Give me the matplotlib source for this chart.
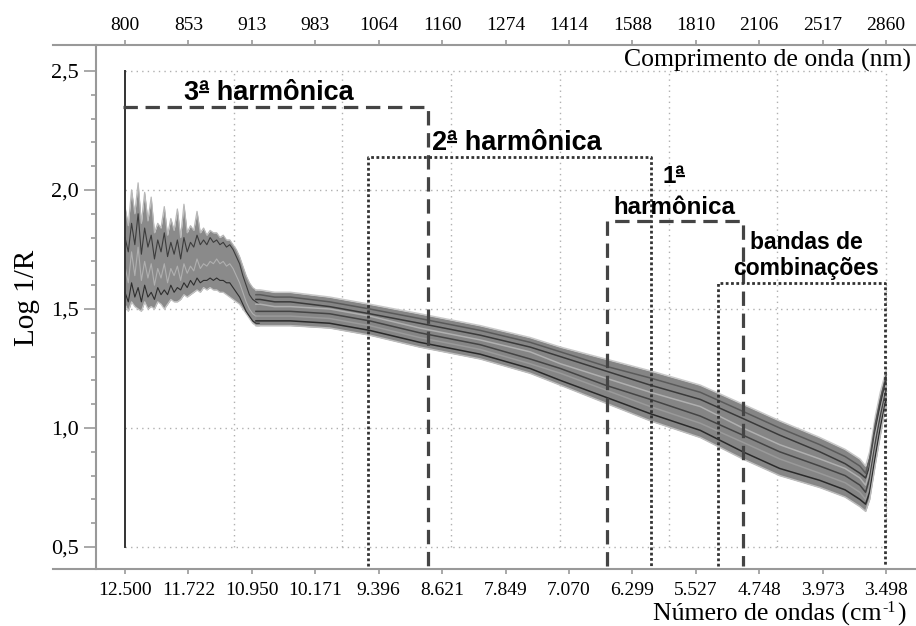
import matplotlib
matplotlib.use("Agg")
import matplotlib.pyplot as plt
from matplotlib.lines import Line2D
from matplotlib.ticker import FixedLocator

# axis ticks (wavenumber positions on a linear axis) and their printed labels
tick_wn = [12500, 11725, 10950, 10175, 9400, 8625, 7850, 7075, 6300, 5525, 4750, 3975, 3200]
bottom_labels = ['12.500', '11.722', '10.950', '10.171', '9.396', '8.621', '7.849',
                 '7.070', '6.299', '5.527', '4.748', '3.973', '3.498']
top_labels = ['800', '853', '913', '983', '1064', '1160', '1274', '1414', '1588',
              '1810', '2106', '2517', '2860']
grid_wn = [12500, 11171, 9843, 8514, 7186, 5857, 4529, 3200]
grid_y = [0.5, 1.0, 1.5, 2.0, 2.5]

# noisy short-wavelength part
wn_noisy = [12500, 12460, 12420, 12380, 12340, 12300, 12260, 12220, 12180, 12140,
            12100, 12060, 12020, 11980, 11940, 11900, 11860, 11820, 11780, 11740,
            11700, 11660, 11620, 11580, 11540, 11500, 11460, 11420, 11380, 11340,
            11300, 11260, 11220, 11180, 11140, 11100, 11060, 11020, 10980, 10940,
            10900, 10860]
noisy_top = [1.93, 1.85, 2.00, 1.90, 2.03, 1.86, 1.99, 1.87, 1.97, 1.82,
             1.86, 1.84, 1.93, 1.81, 1.88, 1.83, 1.92, 1.80, 1.94, 1.82,
             1.85, 1.83, 1.91, 1.82, 1.84, 1.81, 1.83, 1.82, 1.82, 1.80,
             1.81, 1.79, 1.79, 1.77, 1.75, 1.72, 1.68, 1.64, 1.61, 1.59,
             1.58, 1.57]
noisy_bot = [1.52, 1.49, 1.53, 1.51, 1.50, 1.49, 1.53, 1.50, 1.51, 1.50,
             1.53, 1.52, 1.50, 1.52, 1.54, 1.53, 1.53, 1.54, 1.56, 1.55,
             1.56, 1.57, 1.58, 1.57, 1.59, 1.58, 1.59, 1.58, 1.58, 1.57,
             1.57, 1.56, 1.55, 1.54, 1.53, 1.52, 1.50, 1.48, 1.46, 1.44,
             1.43, 1.43]
noisy_a = [1.80, 1.74, 1.86, 1.77, 1.90, 1.73, 1.84, 1.76, 1.81, 1.71,
           1.79, 1.74, 1.82, 1.72, 1.78, 1.73, 1.79, 1.71, 1.80, 1.74,
           1.78, 1.76, 1.81, 1.77, 1.79, 1.77, 1.80, 1.78, 1.79, 1.77,
           1.78, 1.76, 1.77, 1.75, 1.72, 1.69, 1.64, 1.60, 1.56, 1.54,
           1.53, 1.52]
noisy_b = [1.68, 1.61, 1.74, 1.64, 1.76, 1.62, 1.70, 1.63, 1.69, 1.60,
           1.67, 1.63, 1.69, 1.61, 1.67, 1.64, 1.68, 1.62, 1.69, 1.65,
           1.68, 1.66, 1.71, 1.67, 1.69, 1.68, 1.70, 1.69, 1.71, 1.69,
           1.70, 1.68, 1.69, 1.67, 1.64, 1.61, 1.57, 1.53, 1.50, 1.48,
           1.47, 1.47]
noisy_c = [1.57, 1.53, 1.61, 1.55, 1.59, 1.53, 1.60, 1.55, 1.57, 1.54,
           1.59, 1.56, 1.58, 1.56, 1.60, 1.57, 1.59, 1.58, 1.61, 1.59,
           1.62, 1.60, 1.63, 1.61, 1.62, 1.62, 1.63, 1.62, 1.63, 1.62,
           1.62, 1.61, 1.61, 1.59, 1.57, 1.55, 1.52, 1.49, 1.47, 1.45,
           1.44, 1.44]

# smoother long-wavelength part, eight spectra from top to bottom of the band
wn = [10900, 10850, 10670, 10480, 10000, 9510, 8900, 8160, 7550, 7180, 6630, 6080,
      5470, 4950, 4500, 4010, 3700, 3520, 3450, 3400, 3330, 3270, 3200]
spec_1 = [1.58, 1.58, 1.57, 1.57, 1.55, 1.52, 1.48, 1.43, 1.38, 1.34, 1.29, 1.24,
          1.18, 1.10, 1.03, 0.96, 0.91, 0.87, 0.84, 0.90, 1.05, 1.15, 1.24]
spec_2 = [1.56, 1.56, 1.55, 1.55, 1.53, 1.50, 1.46, 1.41, 1.36, 1.32, 1.26, 1.21,
          1.15, 1.07, 1.00, 0.93, 0.88, 0.84, 0.81, 0.87, 1.02, 1.12, 1.22]
spec_3 = [1.54, 1.54, 1.53, 1.53, 1.51, 1.48, 1.44, 1.39, 1.34, 1.30, 1.24, 1.18,
          1.12, 1.04, 0.97, 0.90, 0.85, 0.81, 0.79, 0.84, 0.99, 1.10, 1.20]
spec_4 = [1.52, 1.52, 1.51, 1.51, 1.50, 1.47, 1.42, 1.37, 1.32, 1.27, 1.21, 1.15,
          1.09, 1.00, 0.93, 0.87, 0.83, 0.79, 0.76, 0.82, 0.97, 1.07, 1.18]
spec_5 = [1.49, 1.49, 1.49, 1.49, 1.48, 1.45, 1.40, 1.35, 1.29, 1.25, 1.18, 1.12,
          1.05, 0.97, 0.90, 0.84, 0.80, 0.76, 0.73, 0.79, 0.94, 1.05, 1.16]
spec_6 = [1.47, 1.47, 1.47, 1.47, 1.46, 1.43, 1.38, 1.33, 1.27, 1.23, 1.16, 1.09,
          1.02, 0.94, 0.87, 0.81, 0.77, 0.73, 0.70, 0.76, 0.91, 1.02, 1.14]
spec_7 = [1.45, 1.45, 1.45, 1.45, 1.44, 1.41, 1.36, 1.31, 1.25, 1.20, 1.13, 1.06,
          0.99, 0.90, 0.83, 0.78, 0.74, 0.70, 0.68, 0.73, 0.88, 1.00, 1.12]
spec_8 = [1.43, 1.43, 1.43, 1.43, 1.42, 1.39, 1.34, 1.29, 1.23, 1.18, 1.105, 1.03,
          0.96, 0.87, 0.80, 0.75, 0.71, 0.67, 0.65, 0.70, 0.85, 0.97, 1.10]

# region boxes: (left wn, right wn, top value)
box_3rd = (12500, 8797, 2.35)
box_2nd = (9530, 6072, 2.14)
box_1st = (6610, 4948, 1.87)
box_comb = (5253, 3213, 1.61)
box_bottom = 0.42

serif = 'Liberation Serif'
sans = 'Liberation Sans'

W, H = 916, 626
fig = plt.figure(figsize=(W / 100, H / 100), dpi=100)
ax = fig.add_axes([53 / W, 57 / H, 863 / W, 524 / H])
ax.set_xlim(13380, 2834)
ax.set_ylim(0.4076, 2.609)

# grid (only inside the 0.5-2.5 frame)
dot = (0, (1, 3))
for g in grid_y:
    ax.plot([tick_wn[0], tick_wn[-1]], [g, g], color='#b0b0b0', lw=1, ls=dot, zorder=1)
for g in grid_wn[1:]:
    ax.plot([g, g], [0.5, 2.5], color='#b0b0b0', lw=1, ls=dot, zorder=1)

# spectra
ax.fill_between(wn_noisy, noisy_bot, noisy_top, color='#8a8a8a', lw=0, zorder=2)
ax.plot(wn_noisy, noisy_top, color='#b8b8b8', lw=0.9, zorder=2)
ax.plot(wn_noisy, noisy_bot, color='#c4c4c4', lw=0.9, zorder=2)
ax.plot(wn_noisy, noisy_a, color='#3c3c3c', lw=0.8, zorder=3)
ax.plot(wn_noisy, noisy_b, color='#b0b0b0', lw=0.8, zorder=3)
ax.plot(wn_noisy, noisy_c, color='#2e2e2e', lw=0.8, zorder=3)

ax.fill_between(wn, spec_8, spec_1, color='#858585', lw=0, zorder=2)
spectra = [spec_1, spec_2, spec_3, spec_4, spec_5, spec_6, spec_7, spec_8]
shades = ['#c8c8c8', '#5a5a5a', '#3a3a3a', '#b0b0b0', '#444444', '#9a9a9a', '#2a2a2a', '#bcbcbc']
for s, c in zip(spectra, shades):
    ax.plot(wn, s, color=c, lw=1.1, zorder=3)

# boxes
dash = (0, (4.5, 2.4))
dots = (0, (1, 0.9))
ax.plot([box_3rd[0], box_3rd[0]], [0.5, 2.5], color='#333333', lw=1.4, zorder=4)
ax.plot([box_3rd[0] + 20, box_3rd[1], box_3rd[1]], [box_3rd[2], box_3rd[2], box_bottom],
        color='#444444', lw=2.3, ls=dash, zorder=4)
ax.plot([box_2nd[0], box_2nd[0], box_2nd[1], box_2nd[1]],
        [box_bottom, box_2nd[2], box_2nd[2], box_bottom], color='#333333', lw=2.0, ls=dots, zorder=4)
ax.plot([box_1st[0], box_1st[0], box_1st[1], box_1st[1]],
        [box_bottom, box_1st[2], box_1st[2], box_bottom], color='#444444', lw=2.3, ls=dash, zorder=4)
ax.plot([box_comb[0], box_comb[0], box_comb[1], box_comb[1]],
        [box_bottom, box_comb[2], box_comb[2], box_bottom], color='#333333', lw=2.0, ls=dots, zorder=4)

# labels of the regions
bold = dict(family=sans, fontweight='bold', color='black', zorder=5)
t3 = ax.text(11779, 2.378, '3ª harmônica', ha='left', va='baseline', fontsize=19.5, **bold)
t2 = ax.text(8748, 2.168, '2ª harmônica', ha='left', va='baseline', fontsize=19.5, **bold)
t1 = ax.text(5791, 2.029, '1ª', ha='center', va='baseline', fontsize=17.4, **bold)
ax.text(5791, 1.899, 'harmônica', ha='center', va='baseline', fontsize=17.4, **bold)
ax.text(4178, 1.752, 'bandas de', ha='center', va='baseline', fontsize=16.5, **bold)
ax.text(4178, 1.643, 'combinações', ha='center', va='baseline', fontsize=16.5, **bold)

# spines
spine_c = '#999999'
for side in ['right', 'top']:
    ax.spines[side].set_visible(False)
ax.spines['left'].set_position(('axes', 43 / 863))
ax.spines['left'].set_color(spine_c)
ax.spines['bottom'].set_color(spine_c)
ax.spines['left'].set_linewidth(1.5)
ax.spines['bottom'].set_linewidth(1.5)

ax.set_xticks(tick_wn, labels=bottom_labels)
ax.yaxis.set_major_locator(FixedLocator([0.5, 1.0, 1.5, 2.0, 2.5]))
ax.set_yticklabels(['0,5', '1,0', '1,5', '2,0', '2,5'])
ax.yaxis.set_minor_locator(FixedLocator([0.6, 0.7, 0.8, 0.9, 1.1, 1.2, 1.3, 1.4, 1.6, 1.7,
                                         1.8, 1.9, 2.1, 2.2, 2.3, 2.4]))
ax.tick_params(axis='x', direction='out', length=3.6, width=1.2, color=spine_c, pad=6,
               labelsize=14)
ax.tick_params(axis='y', which='major', direction='out', length=8.5, width=1.2, color=spine_c,
               pad=4, labelsize=16)
ax.tick_params(axis='y', which='minor', direction='out', length=3.6, width=1.2, color=spine_c)
for lab in ax.get_xticklabels() + ax.get_yticklabels():
    lab.set_family(serif)

top = ax.secondary_xaxis('top')
top.set_xticks(tick_wn, labels=top_labels)
top.spines['top'].set_color(spine_c)
top.spines['top'].set_linewidth(1.5)
top.tick_params(direction='out', length=3.6, width=1.2, color=spine_c, pad=4.5, labelsize=14)
for lab in top.get_xticklabels():
    lab.set_family(serif)

# axis titles
fig.text(27 / W, 1 - 298 / H, 'Log 1/R', rotation=90, ha='center', va='center',
         family=serif, fontsize=21)
fig.text(911 / W, 1 - 60 / H, 'Comprimento de onda (nm)', ha='right', va='center',
         family=serif, fontsize=18.5)

fig.canvas.draw()
renderer = fig.canvas.get_renderer()


def width_of(s, **kw):
    tmp = fig.text(0, 0, s, **kw)
    w = tmp.get_window_extent(renderer).width
    tmp.remove()
    return w


# bottom axis title, with a plain "-1" raised as superscript
base_y = H - 621
part1 = fig.text(653 / W, base_y / H, 'Número de ondas (cm', ha='left', va='baseline',
                 family=serif, fontsize=18.5)
x1 = part1.get_window_extent(renderer).x1
part2 = fig.text((x1 + 1) / W, (base_y + 9) / H, '-1', ha='left', va='baseline',
                 family=serif, fontsize=11.5)
x2 = part2.get_window_extent(renderer).x1
fig.text((x2 + 1) / W, base_y / H, ')', ha='left', va='baseline', family=serif, fontsize=18.5)

# underline under the ordinal "ª"
for t, prefix in [(t3, '3'), (t2, '2'), (t1, '1')]:
    fs = t.get_fontsize()
    props = dict(family=sans, fontweight='bold', fontsize=fs)
    left = t.get_window_extent(renderer).x0
    xa = left + width_of(prefix, **props)
    xb = left + width_of(prefix + 'ª', **props)
    yb = ax.transData.transform(t.get_position())[1] + 0.31 * fs * 100 / 72
    fig.add_artist(Line2D([xa / W, xb / W], [yb / H, yb / H],
                          transform=fig.transFigure, color='black', lw=1.6,
                          solid_capstyle='butt', zorder=10))

fig.savefig('out.png', dpi=100)
